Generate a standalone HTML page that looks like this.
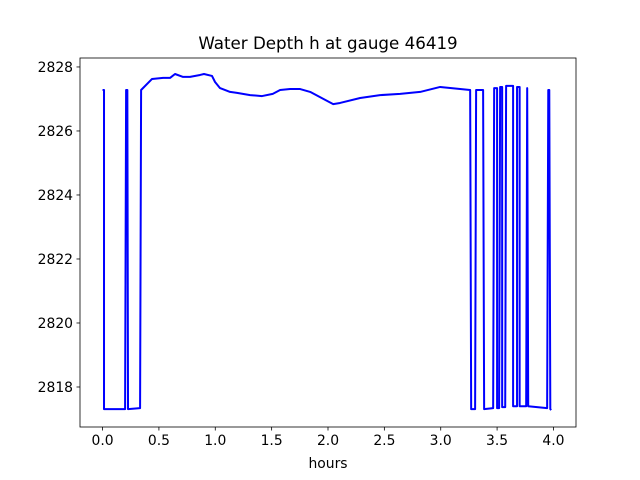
<!DOCTYPE html>
<html><head><meta charset="utf-8"><style>body{margin:0;background:#fff}svg{display:block;font-family:"DejaVu Sans","Liberation Sans",sans-serif}</style></head>
<body>
<svg id="chart" width="640" height="480" xmlns="http://www.w3.org/2000/svg">
<rect width="640" height="480" fill="#fff"/>
<text x="328" y="49" text-anchor="middle" font-size="16.7">Water Depth h at gauge 46419</text>
<g id="xt"></g>
<g id="yt"></g>
<path id="line" fill="none" stroke="#0000ff" stroke-width="2" stroke-linejoin="round"/>
<rect x="80" y="58" width="496" height="369" fill="none" stroke="#000" stroke-width="0.8"/>
<text x="328" y="468" text-anchor="middle" font-size="13.9">hours</text>
</svg>
<script>
const hours=[0.0,0.013,0.013,0.2,0.209,0.22,0.226,0.333,0.342,0.439,0.537,0.6,0.643,0.714,0.776,0.865,0.9,0.971,0.998,1.042,1.131,1.193,1.309,1.415,1.51,1.575,1.664,1.753,1.842,1.975,2.046,2.107,2.285,2.462,2.64,2.818,2.995,3.261,3.27,3.305,3.314,3.376,3.385,3.465,3.474,3.5,3.5,3.518,3.527,3.545,3.545,3.572,3.58,3.642,3.642,3.677,3.677,3.7,3.7,3.758,3.767,3.776,3.944,3.954,3.963,3.972,3.98];
const depth=[2827.28,2827.28,2817.31,2817.31,2827.28,2827.28,2817.31,2817.34,2827.28,2827.625,2827.66,2827.66,2827.78,2827.69,2827.69,2827.75,2827.78,2827.72,2827.53,2827.34,2827.22,2827.19,2827.12,2827.09,2827.16,2827.28,2827.31,2827.31,2827.22,2826.97,2826.84,2826.875,2827.03,2827.12,2827.16,2827.22,2827.375,2827.28,2817.31,2817.31,2827.28,2827.28,2817.31,2817.34,2827.34,2827.34,2817.34,2817.34,2827.375,2827.375,2817.37,2817.37,2827.41,2827.41,2817.4,2817.4,2827.375,2827.375,2817.4,2817.4,2827.34,2817.4,2817.34,2827.28,2827.28,2817.31,2817.28];
const xTicks=[0,0.5,1,1.5,2,2.5,3,3.5,4];
const xLabels=["0.0","0.5","1.0","1.5","2.0","2.5","3.0","3.5","4.0"];
const yTicks=[2818,2820,2822,2824,2826,2828];
const L=80,R=576,T=58,B=427;
const x0=-0.2,x1=4.2,y0=2816.75,y1=2828.28;
const sx=v=>L+(v-x0)/(x1-x0)*(R-L);
const sy=v=>B-(v-y0)/(y1-y0)*(B-T);
const NS="http://www.w3.org/2000/svg";
let d="";
hours.forEach((h,i)=>{d+=(i?"L":"M")+sx(h).toFixed(2)+","+sy(depth[i]).toFixed(2);});
document.getElementById("line").setAttribute("d",d);
const xt=document.getElementById("xt"),yt=document.getElementById("yt");
xTicks.forEach((v,i)=>{
 const l=document.createElementNS(NS,"line");
 
 
 l.setAttribute("x1",sx(v));l.setAttribute("x2",sx(v));l.setAttribute("y1",B);l.setAttribute("y2",B+3.5);l.setAttribute("stroke","#000");l.setAttribute("stroke-width","0.8");
 xt.appendChild(l);
 const t=document.createElementNS(NS,"text");
 
 
 t.setAttribute("x",sx(v));t.setAttribute("y",B+18);t.setAttribute("text-anchor","middle");t.setAttribute("font-size","13.9");
 t.textContent=xLabels[i];xt.appendChild(t);
});
yTicks.forEach(v=>{
 const l=document.createElementNS(NS,"line");
 
 
 l.setAttribute("x1",L-3.5);l.setAttribute("x2",L);l.setAttribute("y1",sy(v));l.setAttribute("y2",sy(v));l.setAttribute("stroke","#000");l.setAttribute("stroke-width","0.8");
 yt.appendChild(l);
 const t=document.createElementNS(NS,"text");
 
 
 t.setAttribute("x",L-7);t.setAttribute("y",sy(v)+5);t.setAttribute("text-anchor","end");t.setAttribute("font-size","13.9");
 t.textContent=String(v);yt.appendChild(t);
});
</script>
</body></html>
